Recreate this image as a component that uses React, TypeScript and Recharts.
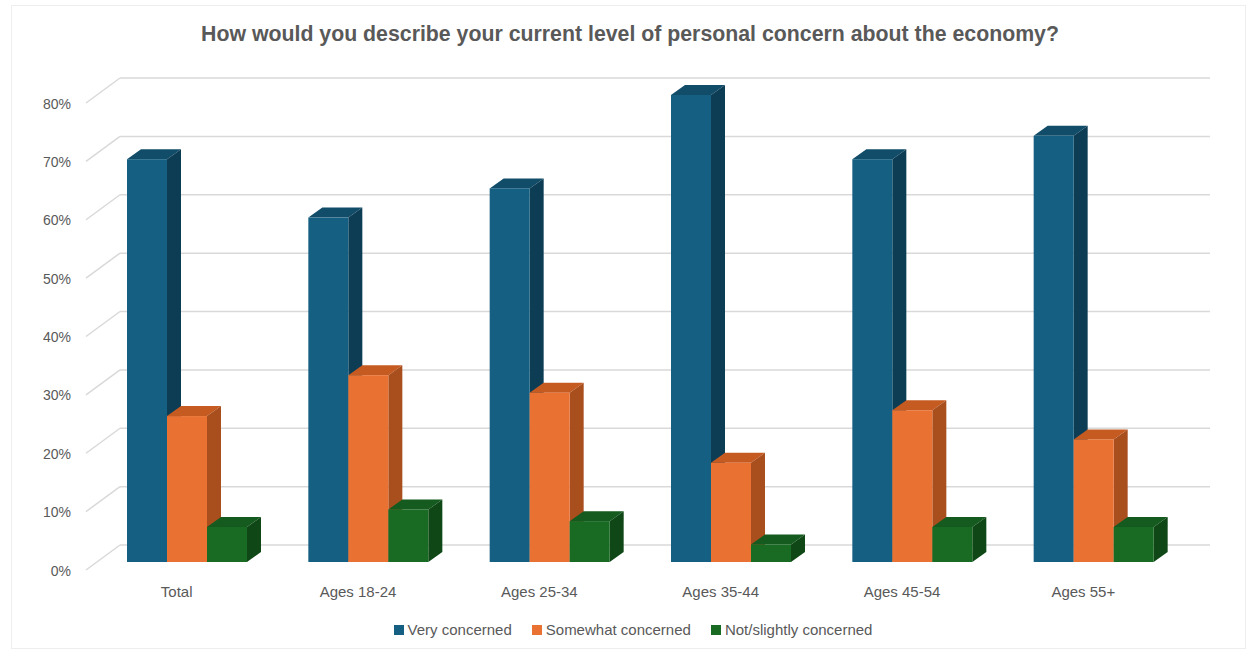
import { BarChart, Bar, XAxis, YAxis, CartesianGrid } from "recharts";

const categories = ["Total", "Ages 18-24", "Ages 25-34", "Ages 35-44", "Ages 45-54", "Ages 55+"];
const veryConcerned = [69, 59, 64, 80, 69, 73];
const somewhatConcerned = [25, 32, 29, 17, 26, 21];
const notConcerned = [6, 9, 7, 3, 6, 6];
const yTicks = [0, 10, 20, 30, 40, 50, 60, 70, 80];

const series = [
    { key: "very", name: "Very concerned", front: "#156082", top: "#114C69", side: "#0D3D55" },
    { key: "somewhat", name: "Somewhat concerned", front: "#E97132", top: "#C65B22", side: "#A94E1D" },
    { key: "not", name: "Not/slightly concerned", front: "#196B24", top: "#155A1E", side: "#0F4816" },
];

const data = categories.map((category, i) => ({
    category,
    very: veryConcerned[i],
    somewhat: somewhatConcerned[i],
    not: notConcerned[i],
}));

const FONT = "'Liberation Sans', Arial, sans-serif";
const TEXT = "#595959";
const GRID = "#D9D9D9";
// depth of the 3d bars
const DX = 14;
const DY = -10;

function Bar3D(props: any) {
    const { x, y, width, height, colors } = props;
    if (height <= 0) return null;
    return (
        <g>
            <polygon
                points={`${x},${y} ${x + DX},${y + DY} ${x + width + DX},${y + DY} ${x + width},${y}`}
                fill={colors.top}
            />
            <polygon
                points={`${x + width},${y} ${x + width + DX},${y + DY} ${x + width + DX},${y + height + DY} ${x + width},${y + height}`}
                fill={colors.side}
            />
            <rect x={x} y={y} width={width} height={height} fill={colors.front} />
        </g>
    );
}

function GridLine(props: any) {
    const { x1, x2, y1 } = props;
    return (
        <g key={props.key}>
            <line x1={x1 - 10} y1={y1 + 8} x2={x1 + 24} y2={y1 - 17} stroke={GRID} strokeWidth={1.5} />
            <line x1={x1 + 24} y1={y1 - 17} x2={x2 + 26} y2={y1 - 17} stroke={GRID} strokeWidth={1.5} />
        </g>
    );
}

export default function App() {
    return (
        <div style={{ position: "absolute", left: 0, top: 0, width: 1249, height: 650, background: "#fff", fontFamily: FONT }}>
            <div style={{ position: "absolute", left: 11, top: 5, width: 1235, height: 644, border: "1px solid #EEEEEE", boxSizing: "border-box" }} />
            <div style={{ position: "absolute", left: 0, top: 22, width: 1260, textAlign: "center", fontSize: 21.3, fontWeight: "bold", color: TEXT }}>
                How would you describe your current level of personal concern about the economy?
            </div>
            <div style={{ position: "absolute" }}>
                <BarChart
                    width={1249}
                    height={650}
                    data={data}
                    margin={{ top: 95, left: 36, right: 65, bottom: 58 }}
                    barGap={0}
                    barSize={40}
                >
                    <CartesianGrid vertical={false} horizontal={(p: any) => <GridLine {...p} />} />
                    <XAxis
                        dataKey="category"
                        axisLine={false}
                        tickLine={false}
                        height={30}
                        tick={(p: any) => (
                            <text x={p.x - 10} y={591} textAnchor="middle" dominantBaseline="central" fill={TEXT} fontSize={15} fontFamily={FONT}>
                                {p.payload.value}
                            </text>
                        )}
                    />
                    <YAxis
                        domain={[0, 80]}
                        ticks={yTicks}
                        width={60}
                        axisLine={false}
                        tickLine={false}
                        tick={(p: any) => (
                            <text x={71} y={p.y + 8.5} textAnchor="end" dominantBaseline="central" fill={TEXT} fontSize={14} fontFamily={FONT}>
                                {`${p.payload.value}%`}
                            </text>
                        )}
                    />
                    {series.map(s => (
                        <Bar
                            key={s.key}
                            dataKey={s.key}
                            name={s.name}
                            fill={s.front}
                            isAnimationActive={false}
                            shape={(p: any) => <Bar3D {...p} colors={s} />}
                        />
                    ))}
                </BarChart>
            </div>
            <div style={{ position: "absolute", left: 0, top: 621, width: 1266, display: "flex", justifyContent: "center", gap: 20, fontSize: 15, color: TEXT }}>
                {series.map(s => (
                    <div key={s.key} style={{ display: "flex", alignItems: "center", gap: 4 }}>
                        <span style={{ width: 10, height: 10, background: s.front, display: "inline-block" }} />
                        <span>{s.name}</span>
                    </div>
                ))}
            </div>
        </div>
    );
}
